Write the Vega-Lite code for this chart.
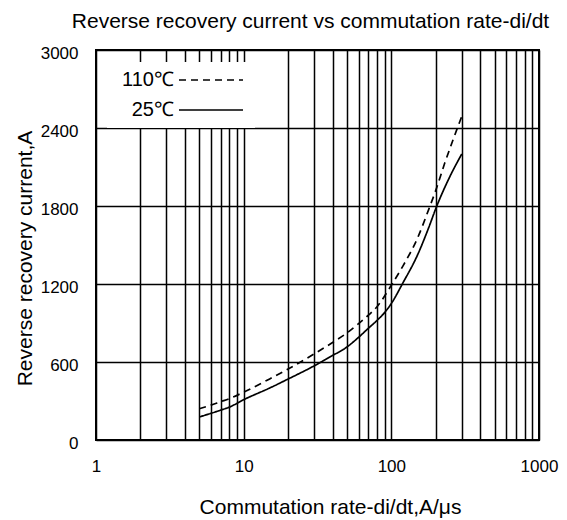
{
  "$schema": "https://vega.github.io/schema/vega-lite/v6.json",
  "width": 443,
  "height": 390,
  "autosize": {"type": "none"},
  "padding": {"left": 96, "top": 50, "right": 28, "bottom": 80},
  "background": "white",
  "config": {
    "font": "Liberation Sans",
    "view": {"stroke": "black", "strokeWidth": 2}
  },
  "title": {
    "text": "Reverse recovery current vs commutation rate-di/dt",
    "fontSize": 21,
    "fontWeight": "normal",
    "color": "black",
    "anchor": "middle",
    "frame": "group",
    "offset": 12,
    "dx": -7
  },
  "data": {
    "values": [
      {"rate": 5, "current": 240, "temp": "110℃"},
      {"rate": 6, "current": 268, "temp": "110℃"},
      {"rate": 7, "current": 295, "temp": "110℃"},
      {"rate": 8, "current": 318, "temp": "110℃"},
      {"rate": 10, "current": 368, "temp": "110℃"},
      {"rate": 15, "current": 470, "temp": "110℃"},
      {"rate": 20, "current": 546, "temp": "110℃"},
      {"rate": 30, "current": 662, "temp": "110℃"},
      {"rate": 40, "current": 750, "temp": "110℃"},
      {"rate": 50, "current": 823, "temp": "110℃"},
      {"rate": 60, "current": 895, "temp": "110℃"},
      {"rate": 70, "current": 960, "temp": "110℃"},
      {"rate": 80, "current": 1025, "temp": "110℃"},
      {"rate": 100, "current": 1190, "temp": "110℃"},
      {"rate": 120, "current": 1340, "temp": "110℃"},
      {"rate": 150, "current": 1550, "temp": "110℃"},
      {"rate": 180, "current": 1780, "temp": "110℃"},
      {"rate": 200, "current": 1920, "temp": "110℃"},
      {"rate": 230, "current": 2130, "temp": "110℃"},
      {"rate": 260, "current": 2300, "temp": "110℃"},
      {"rate": 300, "current": 2490, "temp": "110℃"},
      {"rate": 5, "current": 177, "temp": "25℃"},
      {"rate": 6, "current": 205, "temp": "25℃"},
      {"rate": 7, "current": 230, "temp": "25℃"},
      {"rate": 8, "current": 253, "temp": "25℃"},
      {"rate": 10, "current": 310, "temp": "25℃"},
      {"rate": 15, "current": 400, "temp": "25℃"},
      {"rate": 20, "current": 469, "temp": "25℃"},
      {"rate": 30, "current": 570, "temp": "25℃"},
      {"rate": 40, "current": 650, "temp": "25℃"},
      {"rate": 50, "current": 715, "temp": "25℃"},
      {"rate": 60, "current": 790, "temp": "25℃"},
      {"rate": 70, "current": 860, "temp": "25℃"},
      {"rate": 80, "current": 920, "temp": "25℃"},
      {"rate": 90, "current": 980, "temp": "25℃"},
      {"rate": 100, "current": 1050, "temp": "25℃"},
      {"rate": 120, "current": 1210, "temp": "25℃"},
      {"rate": 150, "current": 1420, "temp": "25℃"},
      {"rate": 180, "current": 1640, "temp": "25℃"},
      {"rate": 200, "current": 1780, "temp": "25℃"},
      {"rate": 250, "current": 2030, "temp": "25℃"},
      {"rate": 300, "current": 2200, "temp": "25℃"}
    ]
  },
  "mark": {"type": "line", "color": "black", "strokeWidth": 1.7, "interpolate": "monotone"},
  "encoding": {
    "x": {
      "field": "rate",
      "type": "quantitative",
      "scale": {"type": "log", "domain": [1, 1000]},
      "axis": {
        "title": "Commutation rate-di/dt,A/μs",
        "values": [1, 2, 3, 4, 5, 6, 7, 8, 9, 10, 20, 30, 40, 50, 60, 70, 80, 90, 100, 200, 300, 400, 500, 600, 700, 800, 900, 1000],
        "labelExpr": "(datum.value == 1 || datum.value == 10 || datum.value == 100 || datum.value == 1000) ? format(datum.value, 'd') : ''",
        "labelOverlap": false,
        "labelFlush": false,
        "labelBound": false,
        "ticks": false,
        "domain": false,
        "grid": true,
        "gridColor": "black",
        "gridWidth": 1.5,
        "gridOpacity": 1,
        "labelFontSize": 17,
        "labelColor": "black",
        "labelPadding": 18,
        "titleFontSize": 21,
        "titleFontWeight": "normal",
        "titleColor": "black",
        "titlePadding": 22,
        "titleX": 234
      }
    },
    "y": {
      "field": "current",
      "type": "quantitative",
      "scale": {"domain": [0, 3000]},
      "axis": {
        "title": "Reverse recovery current,A",
        "values": [0, 600, 1200, 1800, 2400, 3000],
        "format": "d",
        "ticks": false,
        "domain": false,
        "grid": true,
        "gridColor": "black",
        "gridWidth": 1.5,
        "gridOpacity": 1,
        "labelFontSize": 17,
        "labelColor": "black",
        "labelPadding": 18,
        "labelOffset": 3,
        "labelOverlap": false,
        "titleFontSize": 21,
        "titleFontWeight": "normal",
        "titleColor": "black",
        "titlePadding": 5,
        "titleY": 208
      }
    },
    "strokeDash": {
      "field": "temp",
      "type": "nominal",
      "scale": {"domain": ["110℃", "25℃"], "range": [[7, 5], [1, 0]]},
      "legend": {
        "title": null,
        "orient": "none",
        "legendX": 11,
        "legendY": 12,
        "fillColor": "white",
        "padding": 8,
        "symbolType": "M-8,0H8",
        "symbolSize": 64,
        "symbolStrokeWidth": 1.7,
        "symbolStrokeColor": "black",
        "rowPadding": 10,
        "labelFontSize": 20,
        "labelColor": "black",
        "labelAlign": "right",
        "labelLimit": 0,
        "encode": {
          "labels": {"update": {"x": {"value": 59}}},
          "symbols": {"update": {"x": {"value": 96}}}
        }
      }
    }
  }
}
